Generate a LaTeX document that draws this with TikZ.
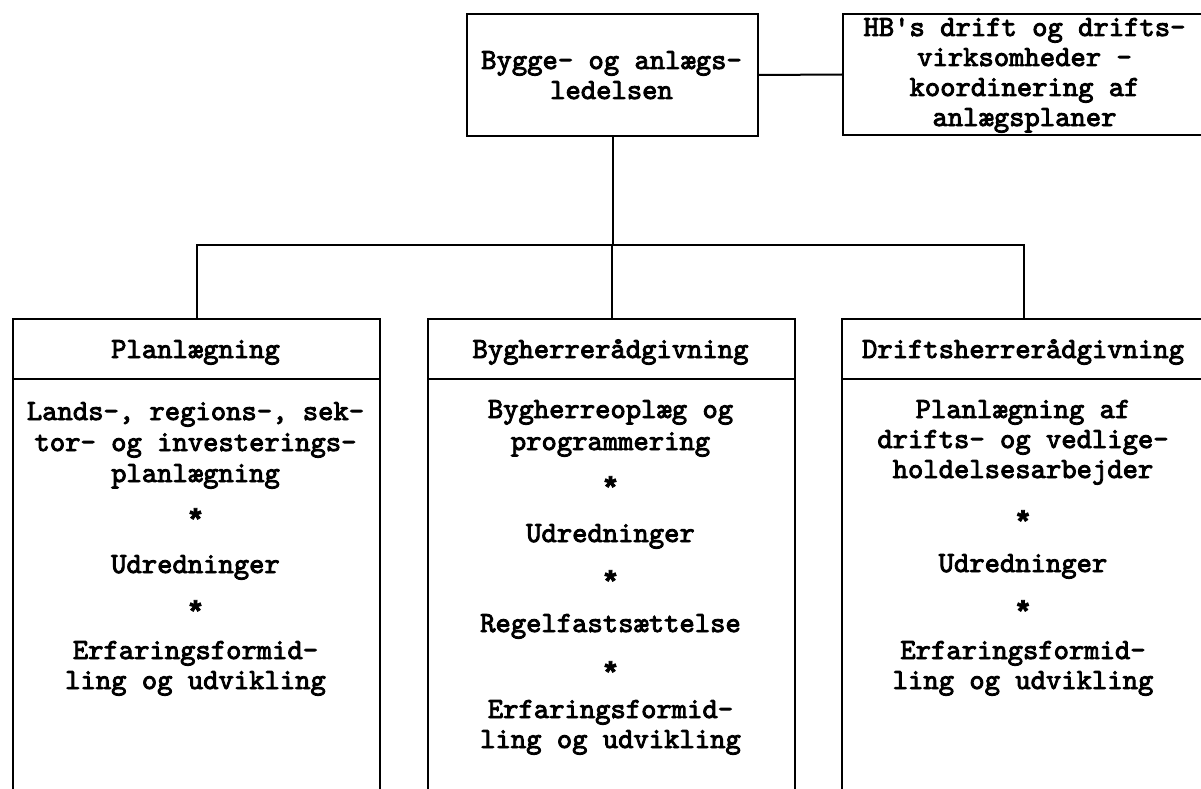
\documentclass[tikz,border=0pt]{standalone}
\usepackage{fontspec}
\setmainfont{Liberation Mono}[Ligatures=TeXOff]
\newfontfamily\starfont{Liberation Mono Bold}[FakeBold=2.5]
\newfontfamily\twfont{lmmono10-regular.otf}[FakeBold=3]
\begin{document}
\begin{tikzpicture}[x=1pt,y=-1pt,line width=2pt,
  txt/.style={font=\fontsize{29.2}{30}\twfont,inner sep=0pt,anchor=base},
  starmark/.style={font=\fontsize{30}{30}\starfont,inner sep=0pt,anchor=base,yshift=-15pt},
  box/.style={draw,inner sep=0pt,anchor=north west}]
\useasboundingbox (0,0) rectangle (1201,789);
\clip (0,0) rectangle (1201,789);
% boxes
\node[box,minimum width=291pt,minimum height=122pt] (top) at (466,13) {};
\node[box,minimum width=400pt,minimum height=121pt] (hb) at (842,13) {};
\node[box,minimum width=367pt,minimum height=500pt] (pl) at (12,318) {};
\node[box,minimum width=367pt,minimum height=500pt] (by) at (427,318) {};
\node[box,minimum width=364pt,minimum height=500pt] (dr) at (841,318) {};
% header dividers
\draw (pl.north west) ++(0,61) -- ++(367,0);
\draw (by.north west) ++(0,61) -- ++(367,0);
\draw (dr.north west) ++(0,61) -- ++(364,0);
% connectors
\coordinate (bus) at (0,245);
\draw (top.east) -- (hb.west);
\draw (top.south) -- (top.south |- bus);
\draw (pl.north) -- (pl.north |- bus) -- (dr.north |- bus) -- (dr.north);
\draw (by.north) -- (by.north |- bus);
% top texts
\node[txt] (t1) at (611.5,69) {Bygge- og anlægs-};
\node[txt] (t2) at (611.5,99) {ledelsen};
\node[txt] (h1) at (1024.5,36) {HB's drift og drifts-};
\node[txt] (h2) at (1024.5,66) {virksomheder -};
\node[txt] (h3) at (1024.5,96) {koordinering af};
\node[txt] (h4) at (1024.5,126) {anlægsplaner};
% headers
\node[txt] (plh) at (195.5,358) {Planlægning};
\node[txt] (byh) at (610.5,358) {Bygherrerådgivning};
\node[txt] (drh) at (1023,358) {Driftsherrerådgivning};
% left body
\node[txt] (pa1) at (195.5,420) {Lands-, regions-, sek-};
\node[txt] (pa2) at (195.5,451) {tor- og investerings-};
\node[txt] (pa3) at (195.5,482) {planlægning};
\node[starmark] (ps1) at (195.5,515) {*};
\node[txt] (pb) at (195.5,573) {Udredninger};
\node[starmark] (ps2) at (195.5,607) {*};
\node[txt] (pc1) at (195.5,659) {Erfaringsformid-};
\node[txt] (pc2) at (195.5,689) {ling og udvikling};
% middle body
\node[txt] (ba1) at (610.5,418) {Bygherreoplæg og};
\node[txt] (ba2) at (610.5,450) {programmering};
\node[starmark] (bs1) at (610.5,483) {*};
\node[txt] (bb) at (610.5,542) {Udredninger};
\node[starmark] (bs2) at (610.5,577) {*};
\node[txt] (bc) at (610.5,632) {Regelfastsættelse};
\node[starmark] (bs3) at (610.5,668) {*};
\node[txt] (bd1) at (610.5,718) {Erfaringsformid-};
\node[txt] (bd2) at (610.5,748) {ling og udvikling};
% right body
\node[txt] (da1) at (1023,418) {Planlægning af};
\node[txt] (da2) at (1023,448) {drifts- og vedlige-};
\node[txt] (da3) at (1023,478) {holdelsesarbejder};
\node[starmark] (ds1) at (1023,517) {*};
\node[txt] (db) at (1023,572) {Udredninger};
\node[starmark] (ds2) at (1023,607) {*};
\node[txt] (dc1) at (1023,659) {Erfaringsformid-};
\node[txt] (dc2) at (1023,689) {ling og udvikling};
\end{tikzpicture}
\end{document}
